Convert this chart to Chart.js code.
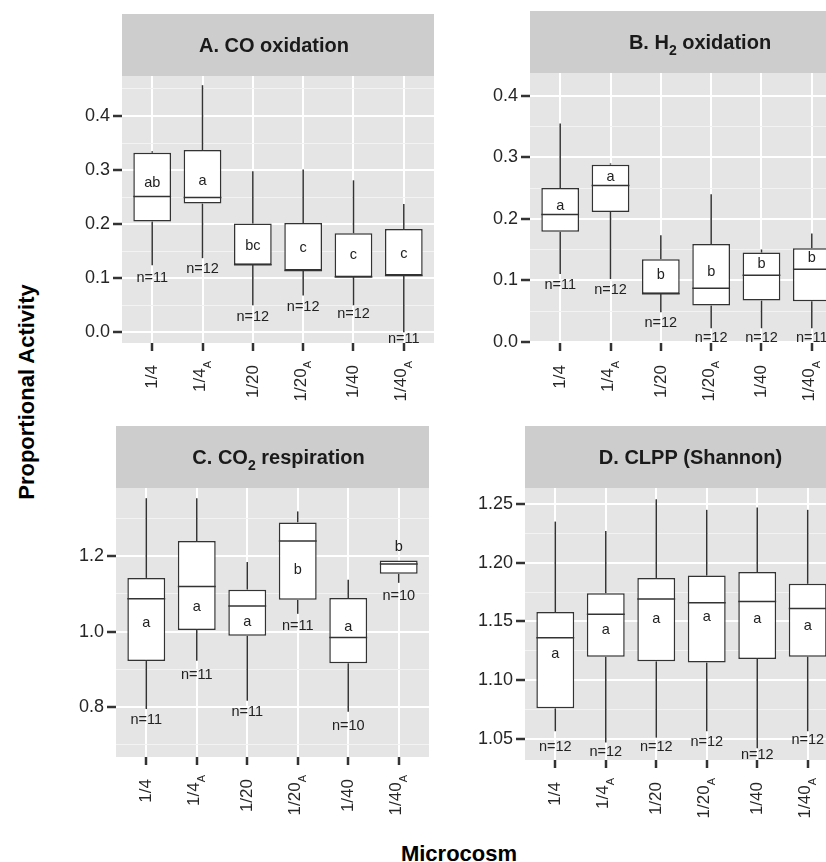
<!DOCTYPE html>
<html>
<head>
<meta charset="utf-8">
<script src="https://cdn.jsdelivr.net/npm/chart.js@4.4.1/dist/chart.umd.min.js"></script>
<style>
    html, body { margin: 0; padding: 0; background: #fff; width: 826px; height: 862px; overflow: hidden; position: relative; }
    canvas { position: absolute; }
    .axis-title { position: absolute; font: bold 22px "Liberation Sans", Arial, sans-serif; color: #000; white-space: nowrap; line-height: 22px; }
    #yTitle { left: 27px; top: 392px; transform: translate(-50%, -50%) rotate(-90deg); }
    #xTitle { left: 459px; top: 843px; transform: translateX(-50%); }
</style>
</head>
<body>
<canvas id="panelA" width="380" height="420" style="left:60px; top:0px;"></canvas>
<canvas id="panelB" width="380" height="420" style="left:470px; top:0px;"></canvas>
<canvas id="panelC" width="380" height="400" style="left:56px; top:420px;"></canvas>
<canvas id="panelD" width="380" height="400" style="left:465px; top:420px;"></canvas>
<div class="axis-title" id="yTitle">Proportional Activity</div>
<div class="axis-title" id="xTitle">Microcosm</div>

<script>
// Microcosm groups (main text + subscript)
const groupMain = ['1/4', '1/4', '1/20', '1/20', '1/40', '1/40'];
const groupSub = ['', 'A', '', 'A', '', 'A'];

// A. CO oxidation
const coMin = [0.124, 0.137, 0.050, 0.068, 0.050, 0.000];
const coQ1 = [0.205, 0.238, 0.125, 0.114, 0.102, 0.105];
const coMed = [0.251, 0.249, 0.125, 0.114, 0.102, 0.105];
const coQ3 = [0.332, 0.337, 0.201, 0.202, 0.183, 0.191];
const coMax = [0.335, 0.457, 0.298, 0.301, 0.281, 0.237];
const coLetters = ['ab', 'a', 'bc', 'c', 'c', 'c'];
const coLetterY = [0.276, 0.279, 0.160, 0.156, 0.143, 0.145];
const coN = [11, 12, 12, 12, 12, 11];
const coNY = [0.103, 0.118, 0.030, 0.049, 0.035, -0.011];

// B. H2 oxidation
const h2Min = [0.110, 0.102, 0.048, 0.022, 0.022, 0.022];
const h2Q1 = [0.179, 0.211, 0.078, 0.059, 0.067, 0.066];
const h2Med = [0.207, 0.254, 0.078, 0.087, 0.108, 0.118];
const h2Q3 = [0.250, 0.288, 0.134, 0.159, 0.145, 0.152];
const h2Max = [0.355, 0.290, 0.173, 0.240, 0.150, 0.176];
const h2Letters = ['a', 'a', 'b', 'b', 'b', 'b'];
const h2LetterY = [0.220, 0.268, 0.108, 0.114, 0.127, 0.136];
const h2N = [11, 12, 12, 12, 12, 11];
const h2NY = [0.094, 0.086, 0.032, 0.008, 0.008, 0.008];

// C. CO2 respiration
const co2Min = [0.795, 0.923, 0.817, 1.047, 0.788, 1.129];
const co2Q1 = [0.922, 1.004, 0.989, 1.084, 0.916, 1.153];
const co2Med = [1.087, 1.119, 1.068, 1.240, 0.984, 1.179];
const co2Q3 = [1.142, 1.240, 1.111, 1.289, 1.089, 1.188];
const co2Max = [1.353, 1.353, 1.184, 1.318, 1.137, 1.188];
const co2Letters = ['a', 'a', 'a', 'b', 'a', 'b'];
const co2LetterY = [1.022, 1.066, 1.025, 1.162, 1.013, 1.223];
const co2N = [11, 11, 11, 11, 10, 10];
const co2NY = [0.769, 0.887, 0.791, 1.017, 0.753, 1.098];

// D. CLPP (Shannon)
const clppMin = [1.0565, 1.047, 1.051, 1.0565, 1.042, 1.0565];
const clppQ1 = [1.076, 1.120, 1.116, 1.115, 1.118, 1.120];
const clppMed = [1.136, 1.156, 1.169, 1.166, 1.167, 1.161];
const clppQ3 = [1.158, 1.174, 1.187, 1.189, 1.192, 1.182];
const clppMax = [1.235, 1.227, 1.254, 1.245, 1.247, 1.245];
const clppLetters = ['a', 'a', 'a', 'a', 'a', 'a'];
const clppLetterY = [1.122, 1.143, 1.152, 1.154, 1.152, 1.146];
const clppN = [12, 12, 12, 12, 12, 12];
const clppNY = [1.044, 1.040, 1.044, 1.048, 1.037, 1.050];

const FONT = '"Liberation Sans", Arial, sans-serif';
const STRIP_H = 62;
const INK = '#333333';

// Draw text pieces with optional subscripts, centered on x
function drawSegments(ctx, segs, cx, baseY) {
    const big = 'bold 20px ' + FONT;
    const small = 'bold 14px ' + FONT;
    let total = 0;
    segs.forEach(s => {
        ctx.font = s.sub ? small : big;
        s.w = ctx.measureText(s.text).width;
        total += s.w;
    });
    let x = cx - total / 2;
    ctx.textAlign = 'left';
    ctx.textBaseline = 'alphabetic';
    segs.forEach(s => {
        ctx.font = s.sub ? small : big;
        ctx.fillText(s.text, x, s.sub ? baseY + 6 : baseY);
        x += s.w;
    });
}

function line(ctx, x1, y1, x2, y2) {
    ctx.beginPath();
    ctx.moveTo(x1, y1);
    ctx.lineTo(x2, y2);
    ctx.stroke();
}

function panelPlugin(p) {
    return {
        id: 'panelDecor',
        beforeDraw(chart) {
            const { ctx, chartArea: a } = chart;
            ctx.save();
            ctx.fillStyle = '#E5E5E5';
            ctx.fillRect(a.left, a.top, a.right - a.left, a.bottom - a.top);
            ctx.fillStyle = '#CDCDCD';
            ctx.fillRect(a.left, a.top - STRIP_H, a.right - a.left, STRIP_H);
            ctx.fillStyle = '#1A1A1A';
            drawSegments(ctx, p.title, (a.left + a.right) / 2 + p.titleDx, a.top - STRIP_H / 2 + 7);
            ctx.restore();
        },
        afterDatasetsDraw(chart) {
            const { ctx } = chart;
            const ys = chart.scales.y;
            const meta = chart.getDatasetMeta(0);
            ctx.save();
            ctx.strokeStyle = INK;
            ctx.lineWidth = 1.5;
            p.q1.forEach((q1, i) => {
                const bar = meta.data[i];
                const x = bar.x;
                const half = bar.width / 2;
                line(ctx, x, ys.getPixelForValue(p.q3[i]), x, ys.getPixelForValue(p.max[i]));
                line(ctx, x, ys.getPixelForValue(q1), x, ys.getPixelForValue(p.min[i]));
                const ym = ys.getPixelForValue(p.med[i]);
                line(ctx, x - half, ym, x + half, ym);
            });
            // letters and sample sizes
            ctx.fillStyle = '#222222';
            ctx.font = '14.5px ' + FONT;
            ctx.textAlign = 'center';
            ctx.textBaseline = 'alphabetic';
            p.letters.forEach((t, i) => {
                const x = meta.data[i].x;
                ctx.fillText(t, x, ys.getPixelForValue(p.letterY[i]) + 4);
                ctx.fillText('n=' + p.n[i], x, ys.getPixelForValue(p.nY[i]) + 5);
            });
            ctx.restore();
        },
        afterDraw(chart) {
            const { ctx, chartArea: a } = chart;
            const xs = chart.scales.x;
            const big = '17px ' + FONT;
            const small = '11px ' + FONT;
            ctx.save();
            ctx.fillStyle = '#262626';
            groupMain.forEach((lab, i) => {
                const x = xs.getPixelForValue(i + 1);
                const sub = groupSub[i];
                ctx.save();
                ctx.translate(sub ? x - 2 : x, a.bottom + (sub ? 18 : 22));
                ctx.rotate(-Math.PI / 2);
                ctx.textAlign = 'right';
                ctx.textBaseline = 'middle';
                if (sub) {
                    ctx.font = small;
                    const ws = ctx.measureText(sub).width;
                    ctx.fillText(sub, 0, 7);
                    ctx.font = big;
                    ctx.fillText(lab, -ws, 0);
                } else {
                    ctx.font = big;
                    ctx.fillText(lab, 0, 0);
                }
                ctx.restore();
            });
            ctx.restore();
        }
    };
}

function makePanel(id, p) {
    const isMajor = v => Math.abs(v / p.majorStep - Math.round(v / p.majorStep)) < 1e-6;
    const boxes = p.q1.map((q, i) => ({ x: i + 1, y: [q, p.q3[i]] }));

    return new Chart(document.getElementById(id), {
        type: 'bar',
        data: {
            datasets: [{
                data: boxes,
                backgroundColor: '#FFFFFF',
                borderColor: INK,
                borderWidth: 1.5,
                borderSkipped: false,
                barPercentage: 0.75,
                categoryPercentage: 1
            }]
        },
        options: {
            responsive: false,
            animation: false,
            events: [],
            layout: { padding: { left: 0, right: p.padRight, top: p.padTop, bottom: 0 } },
            plugins: {
                legend: { display: false },
                tooltip: { enabled: false }
            },
            scales: {
                x: {
                    type: 'linear',
                    min: 0.4,
                    max: 6.6,
                    offset: false,
                    ticks: { display: false, stepSize: 1, includeBounds: false },
                    grid: {
                        offset: false,
                        color: '#FFFFFF',
                        lineWidth: 2,
                        tickLength: 8,
                        tickColor: INK,
                        tickWidth: 2.5
                    },
                    border: { display: false },
                    afterFit: (scale) => { scale.height = p.xAxisHeight; }
                },
                y: {
                    min: p.yMin,
                    max: p.yMax,
                    ticks: {
                        stepSize: p.minorStep,
                        includeBounds: false,
                        padding: 3,
                        color: '#262626',
                        font: { family: FONT, size: 18 },
                        callback: (v) => isMajor(v) ? v.toFixed(p.decimals) : ''
                    },
                    grid: {
                        color: (c) => isMajor(c.tick.value) ? '#FFFFFF' : '#F3F3F3',
                        lineWidth: (c) => isMajor(c.tick.value) ? 2 : 1,
                        tickLength: 9,
                        tickColor: (c) => isMajor(c.tick.value) ? INK : 'rgba(0,0,0,0)',
                        tickWidth: 2.5
                    },
                    border: { display: false },
                    afterFit: (scale) => { scale.width = p.yAxisWidth; }
                }
            }
        },
        plugins: [panelPlugin(p)]
    });
}

makePanel('panelA', {
    title: [{ text: 'A. CO oxidation' }], titleDx: -4,
    min: coMin, q1: coQ1, med: coMed, q3: coQ3, max: coMax,
    letters: coLetters, letterY: coLetterY, n: coN, nY: coNY,
    yMin: -0.02, yMax: 0.474, minorStep: 0.05, majorStep: 0.1, decimals: 1,
    yAxisWidth: 62, padTop: 76, padRight: 6, xAxisHeight: 77
});

makePanel('panelB', {
    title: [{ text: 'B. H' }, { text: '2', sub: true }, { text: ' oxidation' }], titleDx: 14,
    min: h2Min, q1: h2Q1, med: h2Med, q3: h2Q3, max: h2Max,
    letters: h2Letters, letterY: h2LetterY, n: h2N, nY: h2NY,
    yMin: -0.002, yMax: 0.437, minorStep: 0.05, majorStep: 0.1, decimals: 1,
    yAxisWidth: 60, padTop: 73, padRight: 8, xAxisHeight: 77
});

makePanel('panelC', {
    title: [{ text: 'C. CO' }, { text: '2', sub: true }, { text: ' respiration' }], titleDx: 6,
    min: co2Min, q1: co2Q1, med: co2Med, q3: co2Q3, max: co2Max,
    letters: co2Letters, letterY: co2LetterY, n: co2N, nY: co2NY,
    yMin: 0.668, yMax: 1.38, minorStep: 0.1, majorStep: 0.2, decimals: 1,
    yAxisWidth: 60, padTop: 68, padRight: 7, xAxisHeight: 63
});

makePanel('panelD', {
    title: [{ text: 'D. CLPP (Shannon)' }], titleDx: 9,
    min: clppMin, q1: clppQ1, med: clppMed, q3: clppQ3, max: clppMax,
    letters: clppLetters, letterY: clppLetterY, n: clppN, nY: clppNY,
    yMin: 1.032, yMax: 1.2636, minorStep: 0.025, majorStep: 0.05, decimals: 2,
    yAxisWidth: 60, padTop: 68, padRight: 7, xAxisHeight: 60
});
</script>
</body>
</html>
